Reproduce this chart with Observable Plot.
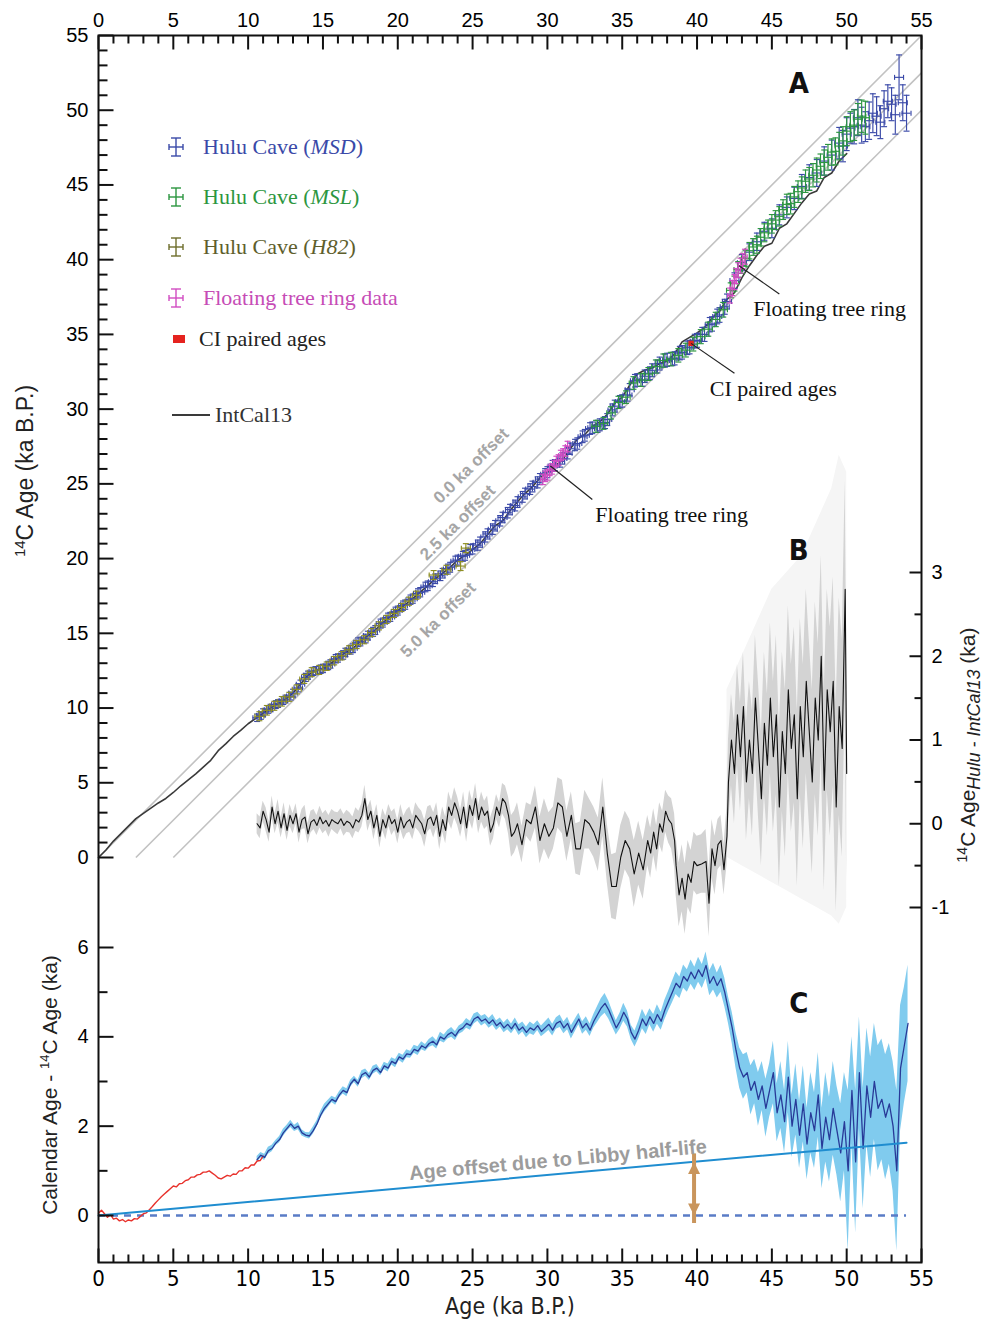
<!DOCTYPE html>
<html><head><meta charset="utf-8">
<script src="https://cdn.jsdelivr.net/npm/d3@7"></script>
<script src="https://cdn.jsdelivr.net/npm/@observablehq/plot@0.6"></script>
<style>
body{margin:0;background:#fff;}
#chart{position:relative;width:984px;height:1322px;overflow:hidden;}
#chart svg{position:absolute;left:0;top:0;background:transparent !important;overflow:visible;}
</style></head><body><div id="chart"></div>
<script>
// ---------------- DATA ----------------
const xMajor = [0,5,10,15,20,25,30,35,40,45,50,55];
const aMajor = [0,5,10,15,20,25,30,35,40,45,50,55];
const bMajor = [-1,0,1,2,3];
const bMinor = [-0.5,0.5,1.5,2.5];
const cMajor = [0,2,4,6];
const cMinor = [1,3,5];
const offsets = [0,2.5,5];

// Panel A: IntCal13 (cal age, 14C age)
const intAge = [0,0.5,1,1.5,2,2.5,3,3.5,4,4.5,5,5.5,6,6.5,7,7.5,8,8.5,9,9.5,
 10,10.5,11,11.5,12,12.5,13,13.5,14,14.5,15,15.5,16,16.5,17,17.5,18,18.5,19,19.5,
 20,20.5,21,21.5,22,22.5,23,23.5,24,24.5,25,25.5,26,26.5,27,27.5,28,28.5,29,29.5,
 30,30.5,31,31.5,32,32.5,33,33.5,34,34.5,35,35.5,36,36.5,37,37.5,38,38.5,39,39.5,
 40,40.5,41,41.5,42,42.5,43,43.5,44,44.5,45,45.5,46,46.5,47,47.5,48,48.5,49,49.5,50];
const intC14 = [0,0.5,1.1,1.6,2.1,2.6,2.95,3.3,3.65,3.95,4.35,4.8,5.2,5.6,6.05,6.5,7.15,7.6,8.1,8.5,
 8.95,9.3,9.65,10.0,10.3,10.6,11.0,11.6,12.2,12.5,12.65,12.95,13.35,13.72,14.0,14.45,14.85,15.22,15.72,16.1,
 16.52,16.92,17.32,17.75,18.18,18.65,19.02,19.42,19.9,20.22,20.6,21.0,21.6,22.2,22.5,23.2,23.8,24.35,24.8,25.4,
 25.8,26.2,26.6,27.3,28.0,28.3,28.85,29.15,29.65,30.4,30.8,31.6,32.35,32.6,32.75,33.05,33.2,33.7,34.5,34.8,
 35.1,35.45,36.1,36.55,37.35,37.8,38.8,39.6,40.3,40.9,41.1,42.1,42.4,43.1,43.8,44.4,44.6,45.5,45.8,46.6,47.1];

// Hulu Cave MSD
const msdCal = [10.6,11.0,11.5,12.0,12.5,13.0,13.5,14.0,14.5,15.0,
 15.5,16.0,16.5,17.0,17.5,18.0,18.5,19.0,19.5,20.0,
 20.5,21.0,21.5,22.0,22.5,23.0,23.5,24.0,24.5,25.0,
 25.5,26.0,26.5,27.0,27.5,28.0,28.5,29.0,29.5,30.0,
 30.5,31.0,31.5,32.0,32.5,33.0,33.5,34.0,34.5,35.0,
 35.5,36.0,36.5,37.0,37.5,38.0,38.5,39.0,39.5,40.0,
 40.5,41.0,41.5,42.0,42.5,43.0,43.5,44.0,44.5,45.0,
 45.5,46.0,46.5,47.0,47.5,48.0,48.5,49.0,49.5,49.75,
 50.0,50.25,50.5,50.75,51.0,51.25,51.5,51.75,52.0,52.25,
 52.5,52.75,53.0,53.25,53.5,53.75,54.0,
 10.85,11.35,11.85,12.35,12.85,13.35,13.85,14.35,14.85,15.35,
 15.85,16.35,16.85,17.35,17.85,18.35,18.85,19.35,19.85,20.35,
 20.85,21.35,21.85,22.35,22.85,23.35,23.85,24.35,24.85,25.35,
 25.85,26.35,26.85,27.35,27.85,28.35,28.85,29.35,29.85,30.35,
 30.85,31.35,31.85,32.35,32.85,33.35,33.85,34.35,34.85,35.35,
 35.85,36.35,36.85,37.35,37.85,38.35,38.85,39.35,39.85,40.35,
 40.85,41.35,41.85];
const msdC14 = [9.35,9.7,10.0,10.3,10.6,11.0,11.6,12.2,12.5,12.65,
 12.95,13.35,13.72,14.0,14.45,14.85,15.22,15.72,16.1,16.52,
 16.92,17.32,17.75,18.18,18.65,19.02,19.42,19.9,20.22,20.65,
 21.1,21.65,22.2,22.75,23.28,23.78,24.35,24.82,25.32,25.78,
 26.25,26.7,27.35,27.7,28.25,28.75,28.95,29.3,30.2,30.55,
 31.3,31.95,32.2,32.6,33.05,33.3,33.4,33.8,34.15,34.6,
 35.0,35.7,36.3,37.2,38.6,39.8,40.5,41.2,41.9,42.1,
 43.0,43.5,44.1,44.9,45.5,45.8,46.6,47.0,47.8,47.6,
 48.4,48.8,48.9,49.5,49.0,48.9,49.3,49.8,49.6,49.2,
 50.1,50.6,50.4,49.7,52.2,50.5,49.8,
 9.5,9.9,10.23,10.5,10.8,11.35,12.05,12.45,12.6,12.85,
 13.3,13.55,13.9,14.4,14.65,15.1,15.65,16.05,16.45,16.85,
 17.25,17.67,18.1,18.45,18.85,19.3,19.83,20.15,20.6,20.9,
 21.45,21.97,22.53,23.07,23.55,24.13,24.65,25.1,25.65,26.2,
 26.5,27.05,27.6,28.15,28.7,28.85,29.1,29.95,30.5,30.95,
 31.9,31.95,32.4,32.85,33.25,33.35,33.75,34.1,34.55,35.0,
 35.65,36.2,36.85];
const msdErrY = [0.25,0.25,0.25,0.26,0.26,0.26,0.27,0.27,0.27,0.28,
 0.28,0.28,0.28,0.29,0.29,0.29,0.3,0.3,0.3,0.3,
 0.31,0.31,0.31,0.32,0.32,0.32,0.33,0.33,0.33,0.34,
 0.34,0.34,0.35,0.35,0.35,0.36,0.36,0.36,0.37,0.37,
 0.37,0.38,0.38,0.38,0.39,0.39,0.4,0.4,0.4,0.41,
 0.41,0.42,0.42,0.43,0.43,0.44,0.44,0.45,0.45,0.46,
 0.47,0.48,0.49,0.5,0.52,0.54,0.56,0.58,0.6,0.63,
 0.67,0.7,0.75,0.8,0.85,0.9,0.95,1.0,1.05,1.05,
 1.1,1.0,1.15,1.2,1.2,1.0,1.25,1.3,1.3,1.1,
 1.2,1.1,1.1,1.3,1.5,1.2,1.2,
 0.25,0.25,0.26,0.26,0.26,0.27,0.27,0.27,0.28,0.28,
 0.28,0.28,0.29,0.29,0.29,0.3,0.3,0.3,0.3,0.31,
 0.31,0.31,0.32,0.32,0.32,0.33,0.33,0.33,0.34,0.34,
 0.34,0.35,0.35,0.35,0.36,0.36,0.36,0.37,0.37,0.37,
 0.38,0.38,0.38,0.39,0.39,0.4,0.4,0.4,0.41,0.41,
 0.42,0.42,0.43,0.43,0.44,0.44,0.45,0.45,0.46,0.47,
 0.48,0.49,0.5];
const msdErrX = [0.28,0.28,0.28,0.28,0.28,0.28,0.28,0.28,0.28,0.28,
 0.29,0.29,0.29,0.29,0.29,0.29,0.29,0.29,0.29,0.29,
 0.3,0.3,0.3,0.3,0.3,0.3,0.3,0.3,0.3,0.3,
 0.3,0.3,0.3,0.3,0.3,0.3,0.3,0.3,0.3,0.3,
 0.3,0.3,0.3,0.3,0.3,0.3,0.3,0.3,0.3,0.3,
 0.3,0.3,0.3,0.3,0.3,0.3,0.3,0.3,0.3,0.3,
 0.3,0.3,0.3,0.3,0.3,0.3,0.3,0.3,0.3,0.3,
 0.3,0.3,0.3,0.3,0.3,0.3,0.3,0.3,0.3,0.3,
 0.3,0.3,0.3,0.3,0.3,0.3,0.3,0.3,0.3,0.3,
 0.3,0.3,0.3,0.3,0.3,0.3,0.3,
 0.28,0.28,0.28,0.28,0.28,0.28,0.28,0.28,0.28,0.28,
 0.29,0.29,0.29,0.29,0.29,0.29,0.29,0.29,0.29,0.29,
 0.3,0.3,0.3,0.3,0.3,0.3,0.3,0.3,0.3,0.3,
 0.3,0.3,0.3,0.3,0.3,0.3,0.3,0.3,0.3,0.3,
 0.3,0.3,0.3,0.3,0.3,0.3,0.3,0.3,0.3,0.3,
 0.3,0.3,0.3,0.3,0.3,0.3,0.3,0.3,0.3,0.3,
 0.3,0.3,0.3];

// Hulu Cave MSL
const mslCal = [33.25,33.75,34.25,34.75,35.25,35.75,36.25,36.75,37.25,37.75,
 38.25,38.75,39.25,39.75,40.25,40.75,41.25,41.75,42.25,42.75,
 43.25,43.75,44.25,44.75,45.25,45.75,46.25,46.75,47.25,47.75,
 48.25,48.75,49.25,49.75,50.25,50.75,51.25,
 42.5,43.0,43.5,44.0,44.5,45.0,45.5,46.0,46.5,47.0,
 47.5,48.0,48.5,49.0,49.5,50.0,50.5,51.0];
const mslC14 = [28.85,29.05,29.75,30.45,30.8,31.75,31.95,32.35,32.85,33.25,
 33.35,33.6,33.95,34.35,34.85,35.35,36.0,36.65,37.95,39.35,
 40.1,40.85,41.5,42.05,42.65,43.35,43.75,44.55,45.25,45.65,
 46.25,46.85,47.25,47.95,48.9,49.4,49.5,
 38.4,39.6,40.6,41.0,41.8,42.4,42.9,43.7,44.2,44.8,
 45.4,46.0,46.5,47.2,47.6,48.6,49.0,49.6];
const mslErrY = [0.4,0.4,0.41,0.41,0.42,0.42,0.43,0.43,0.44,0.44,
 0.45,0.45,0.46,0.46,0.47,0.47,0.48,0.49,0.5,0.52,
 0.54,0.56,0.58,0.6,0.63,0.66,0.69,0.72,0.75,0.78,
 0.82,0.86,0.9,0.95,1.0,1.05,1.1,
 0.5,0.52,0.55,0.57,0.6,0.62,0.65,0.68,0.7,0.74,
 0.77,0.8,0.84,0.88,0.92,0.97,1.02,1.08];
const mslErrX = [0.28,0.28,0.28,0.28,0.28,0.28,0.28,0.28,0.28,0.28,
 0.28,0.28,0.28,0.28,0.28,0.28,0.28,0.28,0.28,0.28,
 0.28,0.28,0.28,0.28,0.28,0.28,0.28,0.28,0.28,0.28,
 0.28,0.28,0.28,0.28,0.28,0.28,0.28,
 0.28,0.28,0.28,0.28,0.28,0.28,0.28,0.28,0.28,0.28,
 0.28,0.28,0.28,0.28,0.28,0.28,0.28,0.28];

// Hulu Cave H82
const h82Cal = [10.75,11.25,11.75,12.25,12.75,13.25,13.75,14.25,14.75,15.25,
 15.75,16.25,16.75,17.25,17.75,18.25,18.75,19.25,19.75,20.25,
 20.75,21.25,22.4,23.25,24.2,24.55];
const h82C14 = [9.45,9.85,10.15,10.45,10.75,11.25,11.95,12.4,12.55,12.8,
 13.17,13.5,13.9,14.25,14.57,15.05,15.5,15.93,16.33,16.73,
 17.15,17.55,18.9,19.25,19.5,20.7];
const h82ErrY = [0.3,0.32,0.3,0.32,0.3,0.3,0.3,0.3,0.3,0.28,
 0.28,0.28,0.27,0.27,0.27,0.27,0.27,0.27,0.27,0.27,
 0.27,0.27,0.3,0.3,0.3,0.3];
const h82ErrX = [0.3,0.3,0.3,0.3,0.3,0.3,0.3,0.3,0.28,0.28,
 0.28,0.28,0.28,0.27,0.27,0.27,0.27,0.27,0.27,0.27,
 0.27,0.27,0.3,0.3,0.3,0.3];

// Floating tree ring data
const trCal = [29.7,29.85,30.0,30.15,30.3,30.45,30.6,30.75,30.9,31.05,31.2,31.35,
 42.2,42.35,42.5,42.6,42.75,42.9,43.05,43.2];
const trC14 = [25.3,25.5,25.6,25.9,26.0,26.2,26.5,26.6,26.9,27.0,27.2,27.5,
 37.6,38.1,38.5,38.9,39.3,39.6,39.9,40.2];
const trErrY = [0.35,0.35,0.35,0.35,0.35,0.35,0.35,0.35,0.35,0.35,0.35,0.35,
 0.5,0.5,0.5,0.5,0.5,0.5,0.5,0.5];
const trErrX = [0.15,0.15,0.15,0.15,0.15,0.15,0.15,0.15,0.15,0.15,0.15,0.15,
 0.15,0.15,0.15,0.15,0.15,0.15,0.15,0.15];

// CI paired age
const ciCal = [39.6];
const ciC14 = [34.4];

// Panel B: 14C age Hulu - IntCal13 (ka)
const bAge = [10.6,10.8,11.0,11.2,11.4,11.6,11.8,12.0,12.2,12.4,
 12.6,12.8,13.0,13.2,13.4,13.6,13.8,14.0,14.2,14.4,
 14.6,14.8,15.0,15.2,15.4,15.6,15.8,16.0,16.2,16.4,
 16.6,16.8,17.0,17.2,17.4,17.6,17.8,18.0,18.2,18.4,
 18.6,18.8,19.0,19.2,19.4,19.6,19.8,20.0,20.2,20.4,
 20.6,20.8,21.0,21.2,21.4,21.6,21.8,22.0,22.2,22.4,
 22.6,22.8,23.0,23.2,23.4,23.6,23.8,24.0,24.2,24.4,
 24.6,24.8,25.0,25.2,25.4,25.6,25.8,26.0,26.2,26.4,
 26.6,26.8,27.0,27.2,27.4,27.6,27.8,28.0,28.3,28.6,
 28.9,29.2,29.5,29.8,30.1,30.4,30.7,31.0,31.3,31.6,
 31.9,32.2,32.5,32.8,33.1,33.4,33.7,34.0,34.3,34.6,
 34.9,35.2,35.5,35.8,36.1,36.4,36.7,36.9,37.1,37.3,
 37.5,37.7,37.9,38.1,38.3,38.5,38.6,38.8,39.0,39.2,
 39.4,39.6,39.8,40.0,40.3,40.6,40.8,41.0,41.2,41.4,
 41.6,41.8,42.0,42.1,42.3,42.5,42.7,42.9,43.1,43.3,
 43.5,43.7,43.9,44.1,44.3,44.5,44.7,44.9,45.1,45.3,
 45.5,45.7,45.9,46.1,46.3,46.5,46.7,46.9,47.1,47.3,
 47.5,47.7,47.9,48.1,48.3,48.5,48.7,48.9,49.1,49.3,
 49.5,49.7,49.9,50.0];
const bVal = [0.0,-0.05,0.15,0.05,-0.1,0.2,0.0,0.15,-0.05,0.12,
 -0.08,0.1,0.0,0.12,-0.1,0.05,0.08,-0.12,0.02,0.05,
 -0.02,0.08,0.0,0.04,-0.03,0.05,0.02,0.0,0.06,-0.02,
 0.03,0.01,-0.05,0.05,0.02,0.1,0.3,0.05,0.15,-0.05,
 0.1,-0.15,0.05,-0.05,0.1,0.0,0.05,-0.1,0.08,-0.05,
 0.02,0.05,-0.05,0.1,0.05,0.0,-0.12,0.05,0.08,-0.02,
 0.1,-0.15,0.05,-0.08,0.2,0.1,0.25,0.15,0.0,0.2,
 -0.05,0.22,0.1,0.3,0.05,0.2,0.1,0.15,-0.1,0.0,
 0.2,0.1,0.3,0.25,0.1,-0.15,-0.1,0.0,-0.25,0.05,
 0.0,0.2,-0.2,0.0,-0.15,-0.05,0.25,0.2,-0.15,0.1,
 -0.3,-0.3,0.05,0.0,-0.1,-0.25,0.2,-0.35,-0.75,-0.75,
 -0.4,-0.2,-0.3,-0.6,-0.35,-0.55,-0.2,-0.35,-0.1,-0.3,
 0.0,-0.1,0.15,0.05,0.0,-0.2,-0.5,-0.85,-0.65,-0.9,
 -0.6,-0.7,-0.45,-0.5,-0.48,-0.45,-0.95,-0.3,-0.5,-0.25,
 -0.2,-0.55,-0.15,0.5,1.0,0.6,1.3,0.8,1.4,0.5,
 1.0,0.6,1.5,0.9,0.3,1.2,0.7,1.5,0.8,1.3,
 0.2,1.1,0.6,1.6,0.9,1.3,0.3,1.4,0.8,1.7,
 1.1,0.5,1.5,1.0,2.0,0.4,1.6,1.1,1.7,0.2,
 1.4,0.9,2.8,0.6];
const bErr = [0.12,0.13,0.12,0.14,0.12,0.13,0.12,0.14,0.12,0.13,
 0.12,0.13,0.12,0.12,0.13,0.12,0.14,0.12,0.13,0.12,
 0.12,0.13,0.12,0.12,0.13,0.12,0.12,0.13,0.12,0.13,
 0.13,0.12,0.13,0.14,0.13,0.14,0.16,0.14,0.13,0.14,
 0.13,0.14,0.13,0.14,0.13,0.14,0.13,0.14,0.15,0.14,
 0.14,0.15,0.14,0.15,0.14,0.15,0.16,0.15,0.14,0.15,
 0.15,0.16,0.15,0.16,0.18,0.17,0.18,0.17,0.16,0.18,
 0.17,0.18,0.17,0.18,0.17,0.18,0.17,0.18,0.17,0.18,
 0.15,0.15,0.18,0.2,0.22,0.25,0.25,0.25,0.22,0.2,
 0.22,0.25,0.28,0.3,0.28,0.25,0.3,0.32,0.3,0.28,
 0.3,0.32,0.35,0.3,0.3,0.32,0.35,0.35,0.38,0.4,
 0.38,0.35,0.35,0.4,0.38,0.35,0.3,0.3,0.28,0.28,
 0.25,0.25,0.25,0.28,0.3,0.32,0.35,0.38,0.4,0.42,
 0.4,0.38,0.35,0.35,0.35,0.38,0.4,0.35,0.35,0.3,
 0.3,0.3,0.35,0.5,0.55,0.6,0.6,0.65,0.65,0.7,
 0.7,0.75,0.75,0.8,0.8,0.85,0.85,0.9,0.9,0.95,
 0.95,0.95,1.0,1.0,1.0,1.05,1.05,1.05,1.1,1.1,
 1.1,1.1,1.15,1.15,1.2,1.2,1.2,1.25,1.25,1.25,
 1.3,1.3,1.3,1.3];
// faint outer envelope of panel B
const bwAge = [42,43,44,45,46,47,48,49,49.5,50];
const bwLo = [-0.4,-0.5,-0.6,-0.7,-0.8,-0.9,-1.0,-1.1,-1.2,-1.0];
const bwHi = [1.6,2.0,2.4,2.8,3.0,3.2,3.6,4.0,4.4,4.2];

// Panel C: calendar age - 14C age (ka), Hulu
const cAge = [10.6,10.85,11.1,11.35,11.6,11.85,12.1,12.35,12.6,12.85,
 13.1,13.35,13.6,13.85,14.1,14.35,14.6,14.85,15.1,15.35,
 15.6,15.85,16.1,16.35,16.6,16.85,17.1,17.35,17.6,17.85,
 18.1,18.35,18.6,18.85,19.1,19.35,19.6,19.85,20.1,20.35,
 20.6,20.85,21.1,21.35,21.6,21.85,22.1,22.35,22.6,22.85,
 23.1,23.35,23.6,23.85,24.1,24.35,24.6,24.85,25.1,25.35,
 25.6,25.85,26.1,26.35,26.6,26.85,27.1,27.35,27.6,27.85,
 28.1,28.35,28.6,28.85,29.1,29.35,29.6,29.85,30.1,30.35,
 30.6,30.85,31.1,31.35,31.6,31.85,32.1,32.35,32.6,32.85,
 33.1,33.35,33.6,33.85,34.1,34.35,34.6,34.85,35.1,35.35,
 35.6,35.85,36.1,36.35,36.6,36.85,37.1,37.35,37.6,37.85,
 38.1,38.35,38.6,38.85,39.1,39.35,39.6,39.85,40.1,40.35,
 40.6,40.85,41.1,41.35,41.6,41.85,42.1,42.35,42.6,42.85,
 43.1,43.35,43.6,43.85,44.1,44.35,44.6,44.85,45.1,45.35,
 45.6,45.85,46.1,46.35,46.6,46.85,47.1,47.35,47.6,47.85,
 48.1,48.35,48.6,48.85,49.1,49.35,49.6,49.85,50.1,50.35,
 50.6,50.85,51.1,51.35,51.6,51.85,52.1,52.35,52.6,52.85,
 53.1,53.35,53.6,53.85,54.1];
const cVal = [1.25,1.35,1.3,1.45,1.5,1.62,1.7,1.85,1.95,2.05,
 1.95,2.0,1.85,1.8,1.78,1.9,2.05,2.25,2.4,2.5,
 2.6,2.55,2.7,2.8,2.75,2.95,3.05,2.95,3.15,3.2,
 3.1,3.25,3.3,3.2,3.35,3.3,3.45,3.4,3.55,3.5,
 3.62,3.6,3.72,3.68,3.8,3.75,3.85,3.9,3.82,4.0,
 3.95,4.05,4.1,4.02,4.15,4.2,4.3,4.25,4.4,4.45,
 4.35,4.4,4.3,4.38,4.25,4.32,4.2,4.28,4.18,4.3,
 4.15,4.22,4.1,4.2,4.15,4.25,4.12,4.2,4.28,4.15,
 4.3,4.35,4.2,4.3,4.1,4.25,4.4,4.2,4.3,4.15,
 4.35,4.5,4.65,4.75,4.6,4.4,4.2,4.35,4.55,4.4,
 4.1,3.95,4.15,4.4,4.25,4.45,4.3,4.5,4.35,4.6,
 4.8,5.0,5.2,5.1,5.35,5.25,5.45,5.3,5.5,5.35,
 5.6,5.2,5.35,5.15,5.3,5.0,4.6,4.2,3.7,3.3,
 3.1,3.2,2.8,3.0,2.6,2.9,2.4,2.8,3.2,2.3,
 2.7,2.1,3.1,2.0,2.6,1.8,2.5,1.6,2.3,1.9,
 2.7,1.5,2.2,1.7,2.4,1.9,1.4,2.1,1.0,2.8,
 1.2,3.2,1.5,2.9,2.2,3.0,2.4,2.6,2.2,2.5,
 2.0,1.0,3.3,3.8,4.3];
const cErr = [0.07,0.06,0.07,0.08,0.07,0.06,0.07,0.08,0.07,0.08,
 0.07,0.08,0.07,0.06,0.07,0.08,0.07,0.08,0.09,0.08,
 0.07,0.08,0.07,0.08,0.09,0.08,0.07,0.08,0.09,0.08,
 0.08,0.09,0.08,0.07,0.08,0.09,0.08,0.09,0.08,0.09,
 0.09,0.08,0.09,0.1,0.09,0.08,0.09,0.1,0.09,0.1,
 0.09,0.1,0.11,0.1,0.09,0.1,0.11,0.1,0.11,0.1,
 0.11,0.1,0.11,0.12,0.11,0.1,0.11,0.12,0.11,0.12,
 0.12,0.11,0.12,0.13,0.12,0.11,0.12,0.13,0.14,0.13,
 0.13,0.14,0.13,0.14,0.15,0.14,0.13,0.14,0.15,0.14,
 0.15,0.18,0.2,0.22,0.2,0.18,0.16,0.18,0.2,0.18,
 0.16,0.18,0.2,0.22,0.2,0.18,0.2,0.22,0.2,0.22,
 0.22,0.24,0.25,0.24,0.26,0.25,0.27,0.26,0.28,0.27,
 0.3,0.28,0.3,0.28,0.3,0.32,0.3,0.35,0.4,0.45,
 0.5,0.45,0.55,0.5,0.6,0.55,0.65,0.6,0.7,0.65,
 0.75,0.7,0.8,0.7,0.8,0.75,0.85,0.8,0.9,0.85,
 0.95,0.9,1.0,0.95,1.05,1.0,1.1,1.1,1.8,1.2,
 1.6,1.25,1.35,1.3,1.35,1.3,1.4,1.35,1.4,1.35,
 1.45,1.8,1.4,1.3,1.3];
// Panel C: red segment 0-11 ka
const rAge = [0,0.2,0.4,0.6,0.8,1.0,1.2,1.4,1.6,1.8,2.0,2.2,2.4,2.6,2.8,3.0,3.2,3.4,3.6,3.8,
 4.0,4.2,4.4,4.6,4.8,5.0,5.2,5.4,5.6,5.8,6.0,6.2,6.4,6.6,6.8,7.0,7.2,7.4,7.6,7.8,
 8.0,8.2,8.4,8.6,8.8,9.0,9.2,9.4,9.6,9.8,10.0,10.2,10.4,10.6,10.8,11.0];
const rVal = [0.05,0.12,0.04,-0.04,0.02,-0.08,-0.06,-0.12,-0.09,-0.14,-0.1,-0.12,-0.07,-0.08,-0.02,0.04,0.06,0.13,0.2,0.28,
 0.35,0.42,0.48,0.54,0.6,0.66,0.64,0.71,0.72,0.78,0.8,0.86,0.86,0.91,0.92,0.97,0.97,1.0,0.95,0.9,
 0.84,0.82,0.86,0.9,0.88,0.93,0.92,1.0,1.0,1.07,1.06,1.13,1.13,1.22,1.23,1.33];
// Libby half-life offset line and zero line
const libbyAge = [0,54];
const libbyVal = [0,1.63];
const zeroLine = [{x1:0, x2:54, y:0}];
const arrowAt = [{x:39.8, y1:0, y2:1.2}];

// annotations
const offsetLabels = [
  {x:24.9, y:26.2, t:"0.0 ka offset"},
  {x:24.0, y:22.4, t:"2.5 ka offset"},
  {x:22.7, y:15.9, t:"5.0 ka offset"}];
const callouts = [
  {x1:30.2, y1:26.2, x2:33.0, y2:23.95, tx:33.2, ty:22.9, t:"Floating tree ring"},
  {x1:42.8, y1:39.6, x2:45.5, y2:37.7, tx:43.75, ty:36.7, t:"Floating tree ring"},
  {x1:39.6, y1:34.4, x2:42.5, y2:32.4, tx:40.85, ty:31.35, t:"CI paired ages"}];
const legendNames = ["Hulu Cave (", "Hulu Cave (", "Hulu Cave (", "Floating tree ring data", "CI paired ages", "IntCal13"];
const legendItalic = ["MSD", "MSL", "H82", "", "", ""];

// ---------------- DRAWING ----------------
const W = 984, H = 1322, L = 98, R = 921;
const SANS = "'Liberation Sans', Arial, Helvetica, sans-serif";
const NARROW = "'Liberation Sans Narrow', 'Arial Narrow', 'DejaVu Sans Condensed', sans-serif";
const SERIF = "'Liberation Serif', 'Times New Roman', serif";
const COL = {msd:"#3a49a8", msl:"#2c9640", h82:"#8e8e22", tr:"#d24cc2", ci:"#e5231f",
  intcal:"#3a3a3a", off:"#c2c2c2", band:"#d3d3d3", bandFaint:"#f5f5f5",
  cBand:"#80cbee", cLine:"#283a98", red:"#e8322c", libby:"#1f8dd0", zero:"#5a7cc6", arrow:"#c9955c"};
const chart = document.getElementById("chart");

const seg = (x1,y1,x2,y2) => ({draw(c){ c.moveTo(x1,y1); c.lineTo(x2,y2); }});
const tri = (h,w) => ({draw(c){ c.moveTo(0,0); c.lineTo(-w,h); c.lineTo(w,h); c.closePath(); }});
const hcap = seg(-3,0,3,0), vcap = seg(0,-2.5,0,2.5);

function layer(yDomain, top, bottom, marks){
  const svg = Plot.plot({
    width: W, height: H, marginLeft: L, marginRight: W - R,
    marginTop: top, marginBottom: H - bottom,
    x: {domain: [0,55], axis: null, label: null},
    y: yDomain ? {domain: yDomain, axis: null, label: null} : {axis: null},
    style: {background: "transparent", overflow: "visible"},
    marks
  });
  chart.appendChild(svg);
  return svg;
}

function errorBars(cal, c14, ey, ex, color){
  const d = cal.map((x,i) => ({x, y: c14[i], ey: ey[i], ex: ex[i]}));
  const o = {stroke: color, strokeWidth: 1.15, fill: "none"};
  return [
    Plot.ruleX(d, {x: "x", y1: p => p.y - p.ey, y2: p => p.y + p.ey, ...o}),
    Plot.ruleY(d, {y: "y", x1: p => p.x - p.ex, x2: p => p.x + p.ex, ...o}),
    Plot.dot(d, {x: "x", y: p => p.y + p.ey, symbol: hcap, ...o}),
    Plot.dot(d, {x: "x", y: p => p.y - p.ey, symbol: hcap, ...o}),
    Plot.dot(d, {x: p => p.x - p.ex, y: "y", symbol: vcap, ...o}),
    Plot.dot(d, {x: p => p.x + p.ex, y: "y", symbol: vcap, ...o})
  ];
}

// ---- Panel A ----
const intData = intAge.map((x,i) => ({x, y: intC14[i]}));
layer([0,55], 35, 857, [
  Plot.link(offsets, {x1: o => o, y1: 0, x2: 55, y2: o => 55 - o, stroke: COL.off, strokeWidth: 1.6}),
  Plot.text(offsetLabels, {x: "x", y: "y", text: "t", rotate: -45, fill: "#a6a6a6", fontWeight: "bold", fontSize: 17, fontFamily: SANS}),
  Plot.line(intData, {x: "x", y: "y", stroke: COL.intcal, strokeWidth: 1.6}),
  ...errorBars(msdCal, msdC14, msdErrY, msdErrX, COL.msd),
  ...errorBars(h82Cal, h82C14, h82ErrY, h82ErrX, COL.h82),
  ...errorBars(mslCal, mslC14, mslErrY, mslErrX, COL.msl),
  ...errorBars(trCal, trC14, trErrY, trErrX, COL.tr),
  Plot.dot(ciCal.map((x,i) => ({x, y: ciC14[i]})), {x: "x", y: "y", symbol: "square", r: 3, fill: COL.ci, stroke: "none"}),
  Plot.link(callouts, {x1: "x1", y1: "y1", x2: "x2", y2: "y2", stroke: "#222", strokeWidth: 1.2}),
  Plot.text(callouts, {x: "tx", y: "ty", text: "t", textAnchor: "start", fontSize: 22, fontFamily: SERIF, fill: "#111"}),
  Plot.text([{x: 46.8, y: 51.8, t: "A"}], {x: "x", y: "y", text: "t", fontSize: 29, fontWeight: "bold", fontFamily: NARROW, fill: "#111"}),
  Plot.dot(aMajor, {y: d => d, frameAnchor: "left", symbol: seg(0,0,15,0), stroke: "#111", strokeWidth: 2}),
  Plot.dot(d3.range(0,56).filter(v => v % 5), {y: d => d, frameAnchor: "left", symbol: seg(0,0,9,0), stroke: "#111", strokeWidth: 2}),
  Plot.axisY(aMajor, {anchor: "left", tickSize: 0, tickPadding: 10, fontSize: 20, fontFamily: SANS, label: null})
]);

// ---- Panel B ----
const bData = bAge.map((x,i) => ({x, v: bVal[i], e: bErr[i]}));
const bwData = bwAge.map((x,i) => ({x, lo: bwLo[i], hi: bwHi[i]}));
layer([-1,3], 572, 907, [
  Plot.areaY(bwData, {x: "x", y1: "lo", y2: "hi", fill: COL.bandFaint}),
  Plot.areaY(bData, {x: "x", y1: d => d.v - d.e, y2: d => d.v + d.e, fill: COL.band}),
  Plot.line(bData, {x: "x", y: "v", stroke: "#111", strokeWidth: 1.1}),
  Plot.text([{x: 46.8, y: 3.26, t: "B"}], {x: "x", y: "y", text: "t", fontSize: 29, fontWeight: "bold", fontFamily: NARROW, fill: "#111"}),
  Plot.dot(bMajor, {y: d => d, frameAnchor: "right", symbol: seg(0,0,-12,0), stroke: "#111", strokeWidth: 2}),
  Plot.dot(bMinor, {y: d => d, frameAnchor: "right", symbol: seg(0,0,-7,0), stroke: "#111", strokeWidth: 2}),
  Plot.axisY(bMajor, {anchor: "right", tickSize: 0, tickPadding: 10, fontSize: 20, fontFamily: SANS, tickFormat: d => String(d), label: null})
]);

// ---- Panel C ----
const cData = cAge.map((x,i) => ({x, v: cVal[i], e: cErr[i]}));
const rData = rAge.map((x,i) => ({x, v: rVal[i]}));
const libData = libbyAge.map((x,i) => ({x, v: libbyVal[i]}));
layer([0,6], 947, 1215, [
  Plot.areaY(cData, {x: "x", y1: d => d.v - d.e, y2: d => d.v + d.e, fill: COL.cBand}),
  Plot.ruleY(zeroLine, {x1: "x1", x2: "x2", y: "y", stroke: COL.zero, strokeWidth: 2.5, strokeDasharray: "7,6"}),
  Plot.line(rData, {x: "x", y: "v", stroke: COL.red, strokeWidth: 1.4}),
  Plot.line(cData, {x: "x", y: "v", stroke: COL.cLine, strokeWidth: 1.3}),
  Plot.line(libData, {x: "x", y: "v", stroke: COL.libby, strokeWidth: 2}),
  Plot.ruleX(arrowAt, {x: "x", y1: "y1", y2: "y2", stroke: COL.arrow, strokeWidth: 4, insetTop: 8, insetBottom: 8}),
  Plot.dot(arrowAt, {x: "x", y: "y2", symbol: tri(12,6), fill: COL.arrow, stroke: "none"}),
  Plot.dot(arrowAt, {x: "x", y: "y1", symbol: tri(-12,6), fill: COL.arrow, stroke: "none"}),
  Plot.text([{x: 30.7, y: 1.24, t: "Age offset due to Libby half-life"}], {x: "x", y: "y", text: "t", rotate: -5.2, fontSize: 20, fontWeight: "bold", fill: "#9c9c9c", fontFamily: SANS}),
  Plot.text([{x: 46.8, y: 4.74, t: "C"}], {x: "x", y: "y", text: "t", fontSize: 29, fontWeight: "bold", fontFamily: NARROW, fill: "#111"}),
  Plot.dot(cMajor, {y: d => d, frameAnchor: "left", symbol: seg(0,0,15,0), stroke: "#111", strokeWidth: 2}),
  Plot.dot(cMinor, {y: d => d, frameAnchor: "left", symbol: seg(0,0,9,0), stroke: "#111", strokeWidth: 2}),
  Plot.axisY(cMajor, {anchor: "left", tickSize: 0, tickPadding: 10, fontSize: 20, fontFamily: SANS, label: null})
]);

// ---- Frame and shared x axes ----
const xMinor = d3.range(0,56).filter(v => v % 5);
layer(null, 35, 1262, [
  Plot.frame({stroke: "#111", strokeWidth: 2}),
  Plot.dot(xMajor, {x: d => d, frameAnchor: "top", symbol: seg(0,0,0,14), stroke: "#111", strokeWidth: 2}),
  Plot.dot(xMinor, {x: d => d, frameAnchor: "top", symbol: seg(0,0,0,8), stroke: "#111", strokeWidth: 2}),
  Plot.dot(xMajor, {x: d => d, frameAnchor: "bottom", symbol: seg(0,0,0,-14), stroke: "#111", strokeWidth: 2}),
  Plot.dot(xMinor, {x: d => d, frameAnchor: "bottom", symbol: seg(0,0,0,-8), stroke: "#111", strokeWidth: 2}),
  Plot.axisX(xMajor, {anchor: "top", tickSize: 0, tickPadding: 9, fontSize: 20, fontFamily: SANS, label: null}),
  Plot.axisX(xMajor, {anchor: "bottom", tickSize: 0, tickPadding: 8, fontSize: 22, fontFamily: NARROW, label: null})
]);

// ---- Titles and legend ----
const ov = d3.select(chart).append("svg").attr("width", W).attr("height", H);
function richText(g, parts){
  parts.forEach(p => {
    const ts = g.append("tspan").text(p.t);
    if (p.fs) ts.attr("font-size", p.fs);
    if (p.dy) ts.attr("dy", p.dy);
    if (p.it) ts.attr("font-style", "italic");
  });
}
const t1 = ov.append("text").attr("transform", "translate(33,471) rotate(-90)").attr("text-anchor", "middle")
  .attr("font-family", SANS).attr("font-size", 23).attr("fill", "#222");
richText(t1, [{t: "14", fs: 15, dy: -8}, {t: "C Age (ka B.P.)", dy: 8}]);
const t2 = ov.append("text").attr("transform", "translate(975,745) rotate(-90)").attr("text-anchor", "middle")
  .attr("font-family", SANS).attr("font-size", 21).attr("fill", "#222");
richText(t2, [{t: "14", fs: 14, dy: -8}, {t: "C Age", dy: 8}, {t: "Hulu - IntCal13", it: true, fs: 18, dy: 5}, {t: " (ka)", dy: -5}]);
const t3 = ov.append("text").attr("transform", "translate(57,1085) rotate(-90)").attr("text-anchor", "middle")
  .attr("font-family", SANS).attr("font-size", 21).attr("fill", "#222");
richText(t3, [{t: "Calendar Age - "}, {t: "14", fs: 13, dy: -8}, {t: "C Age (ka)", dy: 8}]);
ov.append("text").attr("x", 510).attr("y", 1314).attr("text-anchor", "middle")
  .attr("font-family", NARROW).attr("font-size", 23).attr("fill", "#222").text("Age (ka B.P.)");

// legend
const lgColors = [COL.msd, COL.msl, "#5e5e2c", "#c64cb6", "#222", "#333"];
const lgIcon = [COL.msd, COL.msl, "#6e6e2c", COL.tr, COL.ci, COL.intcal];
const lgY = [147, 197, 247, 298, 339, 415];
legendNames.forEach((name, i) => {
  const y = lgY[i], g = ov.append("g");
  if (i < 4) {
    const c = lgIcon[i];
    const ln = (x1,y1,x2,y2) => g.append("line").attr("x1",x1).attr("y1",y1).attr("x2",x2).attr("y2",y2).attr("stroke",c).attr("stroke-width",1.4);
    ln(176, y-9, 176, y+9); ln(171, y-9, 181, y-9); ln(171, y+9, 181, y+9);
    ln(169, y, 183, y); ln(169, y-3, 169, y+3); ln(183, y-3, 183, y+3);
    const tx = g.append("text").attr("x", 203).attr("y", y + 7).attr("font-family", SERIF).attr("font-size", 22).attr("fill", lgColors[i]);
    if (legendItalic[i]) richText(tx, [{t: name}, {t: legendItalic[i], it: true}, {t: ")"}]);
    else tx.text(name);
  } else if (i === 4) {
    g.append("rect").attr("x", 173).attr("y", y - 4).attr("width", 12).attr("height", 8).attr("fill", COL.ci);
    g.append("text").attr("x", 199).attr("y", y + 7).attr("font-family", SERIF).attr("font-size", 22).attr("fill", lgColors[i]).text(name);
  } else {
    g.append("line").attr("x1", 172).attr("x2", 210).attr("y1", y).attr("y2", y).attr("stroke", lgIcon[i]).attr("stroke-width", 2);
    g.append("text").attr("x", 215).attr("y", y + 7).attr("font-family", SERIF).attr("font-size", 22).attr("fill", lgColors[i]).text(name);
  }
});
</script></body></html>
